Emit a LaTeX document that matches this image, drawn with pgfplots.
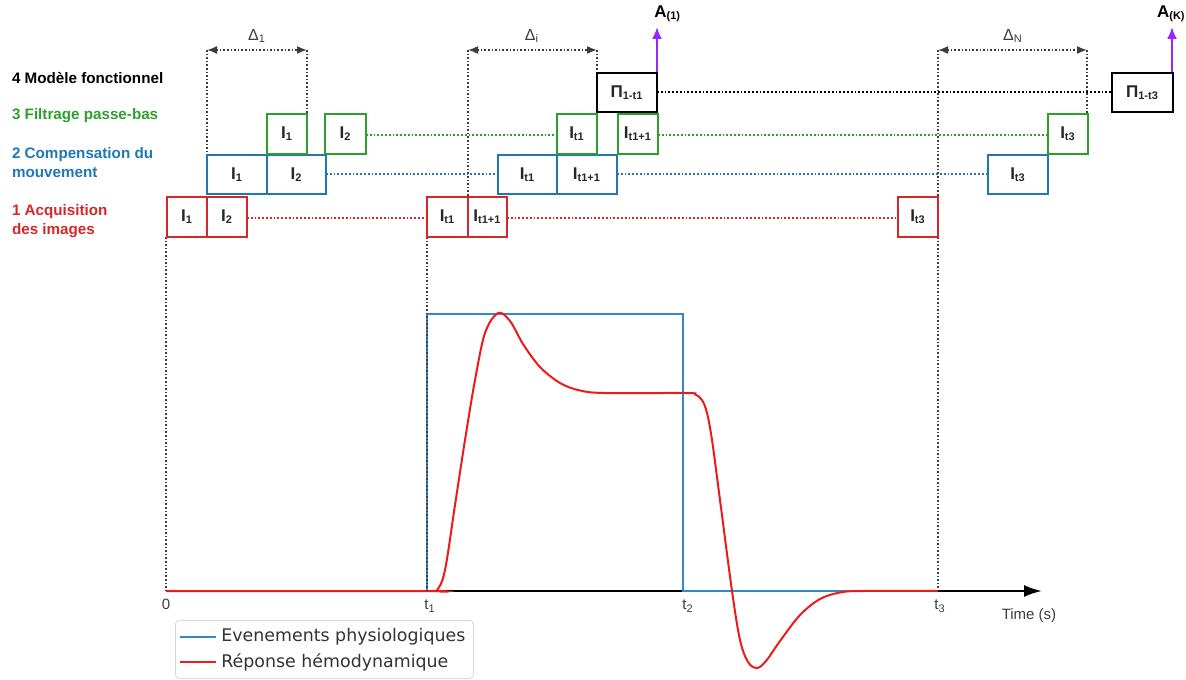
\documentclass[border=0pt]{standalone}
\usepackage{fontspec}
\setmainfont{Liberation Sans}
\newfontfamily\dejavu{DejaVu Sans}
\usepackage{pgfplots}
\pgfplotsset{compat=1.18}
\usetikzlibrary{arrows.meta}
\definecolor{cred}{RGB}{214,39,40}
\definecolor{cblue}{RGB}{31,119,180}
\definecolor{cgreen}{RGB}{44,160,44}
\definecolor{cpurple}{RGB}{150,40,255}
\definecolor{lblue}{RGB}{50,135,205}
\definecolor{lred}{RGB}{238,25,25}
\definecolor{dgray}{RGB}{60,60,60}

\newcommand{\bx}[6]{%
 \addplot[draw=#5, line width=1.4pt, line join=miter, forget plot] coordinates {(#1,#2)(#3,#2)(#3,#4)(#1,#4)} -- cycle;
 \node[font=\fontsize{8.5}{10}\selectfont\bfseries, text=black!85] at (axis cs:{(#1+#3)/2},{(#2+#4)/2}) {#6};}
\newcommand{\sub}[1]{\textsubscript{\fontsize{5.5}{6}\selectfont #1}}

\begin{document}
\begin{tikzpicture}
\begin{axis}[x=0.5pt, y=0.5pt, y dir=reverse,
  xmin=0, xmax=1186, ymin=0, ymax=679,
  hide axis, clip=false,
  legend cell align=left,
  legend style={at={(axis cs:175,620)}, anchor=north west, draw=black!15,
    rounded corners=2pt, font=\dejavu\fontsize{8.7}{10.5}\selectfont, text=black!80,
    inner sep=2pt, row sep=0.5pt},
  legend image code/.code={\draw[#1] (0pt,0pt) -- (18pt,0pt);}]
\path (axis cs:0,0) rectangle (axis cs:1186,679);

% time axis
\addplot[black, line width=1.1pt, -{Latex[length=9pt,width=6pt]}, forget plot] coordinates {(166,591)(1042,591)};

% physiological events
\addplot[lblue, line width=1pt] coordinates {(166,591)(427,591)(427,314)(683,314)(683,591)(938,591)};
\addlegendentry{Evenements physiologiques}
% haemodynamic response
\addplot[lred, line width=1pt, smooth, tension=0.55] coordinates {
(166,591)(427,591)(437,590)(445,570)(455,505)(465,440)(475,380)(485,333)(498,313)(510,321)(523,344)(540,367)(560,383)(580,390.5)(605,393)(686,393)(695,394.3)(702,400)(707,413)(712,440)(720,500)(732,591)(740,640)(748,662)(757,668)(766,661)(780,641)(800,615)(820,599)(840,592.5)(862,591)(938,591)};
\addlegendentry{Réponse hémodynamique}

% vertical guides
\addplot[dgray, densely dotted, line width=0.8pt, forget plot] coordinates {(166,237)(166,591)};
\addplot[dgray, densely dotted, line width=0.8pt, forget plot] coordinates {(427,237)(427,591)};
\addplot[dgray, densely dotted, line width=0.8pt, forget plot] coordinates {(938,50)(938,591)};
\addplot[dgray, densely dotted, line width=0.8pt, forget plot] coordinates {(207,50)(207,155)};
\addplot[dgray, densely dotted, line width=0.8pt, forget plot] coordinates {(307,50)(307,114)};
\addplot[dgray, densely dotted, line width=0.8pt, forget plot] coordinates {(468,50)(468,197)};
\addplot[dgray, densely dotted, line width=0.8pt, forget plot] coordinates {(597,50)(597,73)};
\addplot[dgray, densely dotted, line width=0.8pt, forget plot] coordinates {(1087,50)(1087,114)};
% delta arrows
\addplot[dgray, densely dotted, line width=0.8pt, {Latex[length=5pt,width=4pt]}-{Latex[length=5pt,width=4pt]}, forget plot] coordinates {(207,50)(307,50)};
\addplot[dgray, densely dotted, line width=0.8pt, {Latex[length=5pt,width=4pt]}-{Latex[length=5pt,width=4pt]}, forget plot] coordinates {(468,50)(597,50)};
\addplot[dgray, densely dotted, line width=0.8pt, {Latex[length=5pt,width=4pt]}-{Latex[length=5pt,width=4pt]}, forget plot] coordinates {(938,50)(1087,50)};

% horizontal connectors
\addplot[cred, densely dotted, line width=0.9pt, forget plot] coordinates {(247,218)(427,218)};
\addplot[cred, densely dotted, line width=0.9pt, forget plot] coordinates {(507,218)(898,218)};
\addplot[cblue, densely dotted, line width=0.9pt, forget plot] coordinates {(326,174)(498,174)};
\addplot[cblue, densely dotted, line width=0.9pt, forget plot] coordinates {(617,174)(988,174)};
\addplot[cgreen, densely dotted, line width=0.9pt, forget plot] coordinates {(366,135)(557,135)};
\addplot[cgreen, densely dotted, line width=0.9pt, forget plot] coordinates {(658,135)(1048,135)};
\addplot[black, densely dotted, line width=0.9pt, forget plot] coordinates {(657,92)(1112,92)};

% purple arrows
\addplot[cpurple, line width=1pt, -{Latex[length=6pt,width=5pt]}, forget plot] coordinates {(657,73)(657,27)};
\addplot[cpurple, line width=1pt, -{Latex[length=6pt,width=5pt]}, forget plot] coordinates {(1172,73)(1172,27)};

% boxes: acquisition
\bx{167}{197}{207}{237}{cred}{I\sub{1}}
\bx{207}{197}{247}{237}{cred}{I\sub{2}}
\bx{427}{197}{468}{237}{cred}{I\sub{t1}}
\bx{468}{197}{507}{237}{cred}{I\sub{t1+1}}
\bx{898}{197}{938}{237}{cred}{I\sub{t3}}
% motion compensation
\bx{207}{155}{267}{194}{cblue}{I\sub{1}}
\bx{267}{155}{326}{194}{cblue}{I\sub{2}}
\bx{498}{155}{557}{194}{cblue}{I\sub{t1}}
\bx{557}{155}{617}{194}{cblue}{I\sub{t1+1}}
\bx{988}{155}{1048}{194}{cblue}{I\sub{t3}}
% low-pass
\bx{267}{114}{307}{154}{cgreen}{I\sub{1}}
\bx{325}{114}{366}{154}{cgreen}{I\sub{2}}
\bx{557}{114}{597}{154}{cgreen}{I\sub{t1}}
\bx{618}{114}{658}{154}{cgreen}{I\sub{t1+1}}
\bx{1048}{114}{1088}{154}{cgreen}{I\sub{t3}}
% functional model
\bx{597}{73}{657}{112}{black}{Π\sub{1-t1}}
\bx{1112}{73}{1173}{112}{black}{Π\sub{1-t3}}

% labels
\node[font=\fontsize{8.5}{10}\selectfont\bfseries, anchor=west, inner sep=1pt] at (axis cs:652,14) {A\sub{(1)}};
\node[font=\fontsize{8.5}{10}\selectfont\bfseries, anchor=east, inner sep=0pt] at (axis cs:1186,14) {A\sub{(K)}};
\node[font=\fontsize{8}{10}\selectfont, text=dgray] at (axis cs:257,36) {Δ\sub{1}};
\node[font=\fontsize{8}{10}\selectfont, text=dgray] at (axis cs:532,36) {Δ\sub{i}};
\node[font=\fontsize{8}{10}\selectfont, text=dgray] at (axis cs:1013,36) {Δ\sub{N}};

\node[font=\fontsize{7.6}{9}\selectfont\bfseries, anchor=west] at (axis cs:5,78) {4 Modèle fonctionnel};
\node[font=\fontsize{7.6}{9}\selectfont\bfseries, anchor=west, text=cgreen] at (axis cs:5,116) {3 Filtrage passe-bas};
\node[font=\fontsize{7.6}{9}\selectfont\bfseries, anchor=west, text=cblue] at (axis cs:5,155) {2 Compensation du};
\node[font=\fontsize{7.6}{9}\selectfont\bfseries, anchor=west, text=cblue] at (axis cs:5,173) {mouvement};
\node[font=\fontsize{7.6}{9}\selectfont\bfseries, anchor=west, text=cred] at (axis cs:5,212) {1 Acquisition};
\node[font=\fontsize{7.6}{9}\selectfont\bfseries, anchor=west, text=cred] at (axis cs:5,231) {des images};

% time axis labels
\node[font=\fontsize{7.5}{9}\selectfont, text=dgray] at (axis cs:166,604) {0};
\node[font=\fontsize{7.5}{9}\selectfont, text=dgray] at (axis cs:430,606) {t\sub{1}};
\node[font=\fontsize{7.5}{9}\selectfont, text=dgray] at (axis cs:688,606) {t\sub{2}};
\node[font=\fontsize{7.5}{9}\selectfont, text=dgray] at (axis cs:940,606) {t\sub{3}};
\node[font=\fontsize{7.5}{9}\selectfont, text=dgray] at (axis cs:1029,616) {Time (s)};
\end{axis}
\end{tikzpicture}
\end{document}
